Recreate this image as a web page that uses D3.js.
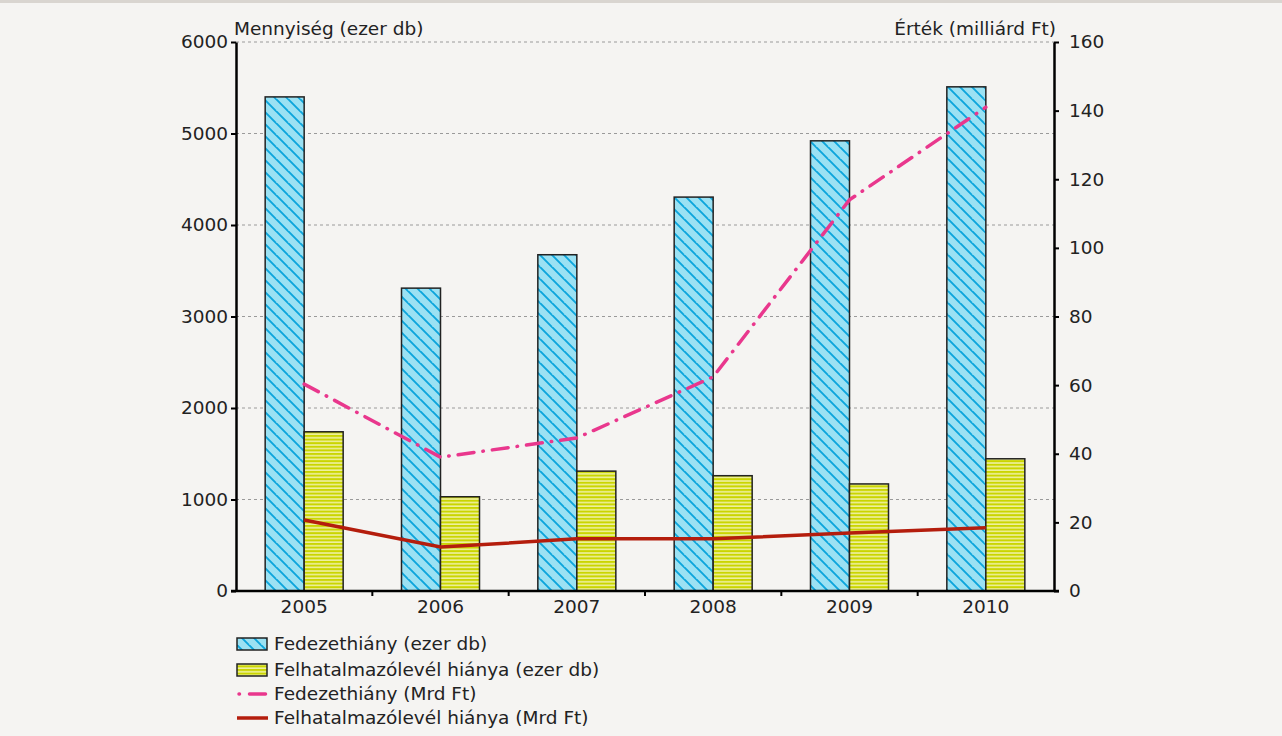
<!DOCTYPE html>
<html>
<head>
<meta charset="utf-8">
<script src="https://cdn.jsdelivr.net/npm/d3@7"></script>
<style>
  html, body { margin: 0; padding: 0; background: #f5f4f2; }
  body { border-top: 3px solid #d9d5d0; }
  text { font-family: "DejaVu Sans", sans-serif; fill: #222; }
</style>
</head>
<body>
<script>
// adatok
let years = ["2005", "2006", "2007", "2008", "2009", "2010"];
let fedezetDb = [5400, 3310, 3675, 4305, 4920, 5510];
let felhatDb = [1740, 1030, 1310, 1260, 1170, 1445];
let fedezetFt = [60.3, 39, 44.6, 62.4, 114, 141];
let felhatFt = [20.7, 12.8, 15.2, 15.2, 16.9, 18.4];
let leftTicks = [0, 1000, 2000, 3000, 4000, 5000, 6000];
let rightTicks = [0, 20, 40, 60, 80, 100, 120, 140, 160];
let legendNames = ["Fedezethiány (ezer db)", "Felhatalmazólevél hiánya (ezer db)",
    "Fedezethiány (Mrd Ft)", "Felhatalmazólevél hiánya (Mrd Ft)"];

let width = 1282;
let height = 733;
let plotLeft = 236, plotRight = 1054, plotTop = 39, plotBottom = 588;
let fontFam = "DejaVu Sans, sans-serif";
let fontSize = "18.5px";

let svg = d3.select("body")
    .append("svg")
    .attr("width", width)
    .attr("height", height)
    .style("display", "block");

// mintázatok
let defs = svg.append("defs");
let hs = 12;
let pBlue = defs.append("pattern")
    .attr("id", "blueHatch")
    .attr("patternUnits", "userSpaceOnUse")
    .attr("width", hs).attr("height", hs);
pBlue.append("rect").attr("width", hs).attr("height", hs).attr("fill", "#9be1f3");
pBlue.append("path")
    .attr("d", `M${-hs},0 L0,${hs} M0,0 L${hs},${hs} M0,${-hs} L${2 * hs},${hs}`)
    .attr("stroke", "#0ca5dc").attr("stroke-width", 1.9);

let pYellow = defs.append("pattern")
    .attr("id", "yellowHatch")
    .attr("patternUnits", "userSpaceOnUse")
    .attr("width", 4).attr("height", 3.6);
pYellow.append("rect").attr("width", 4).attr("height", 3.6).attr("fill", "#eef0a0");
pYellow.append("rect").attr("y", 0).attr("width", 4).attr("height", 2).attr("fill", "#cad500");

let x = d3.scaleBand().domain(years).range([plotLeft, plotRight]);
let yL = d3.scaleLinear().domain([0, 6000]).range([plotBottom, plotTop]);
let yR = d3.scaleLinear().domain([0, 160]).range([plotBottom, plotTop]);

// rácsvonalak
svg.append("g")
    .selectAll("line")
    .data(leftTicks.slice(1))
    .join("line")
    .attr("x1", plotLeft).attr("x2", plotRight)
    .attr("y1", d => yL(d)).attr("y2", d => yL(d))
    .attr("stroke", "#9a9a9a")
    .attr("stroke-width", 1)
    .attr("stroke-dasharray", "3,3");

let barW = 39;

svg.append("g")
    .selectAll("rect")
    .data(fedezetDb)
    .join("rect")
    .attr("x", (d, i) => x(years[i]) + x.bandwidth() / 2 - barW)
    .attr("y", d => yL(d))
    .attr("width", barW)
    .attr("height", d => plotBottom - yL(d))
    .attr("fill", "url(#blueHatch)")
    .attr("stroke", "#222").attr("stroke-width", 1.5);

svg.append("g")
    .selectAll("rect")
    .data(felhatDb)
    .join("rect")
    .attr("x", (d, i) => x(years[i]) + x.bandwidth() / 2)
    .attr("y", d => yL(d))
    .attr("width", barW)
    .attr("height", d => plotBottom - yL(d))
    .attr("fill", "url(#yellowHatch)")
    .attr("stroke", "#222").attr("stroke-width", 1.5);

// vonalak
let lineR = d3.line()
    .x((d, i) => x(years[i]) + x.bandwidth() / 2)
    .y(d => yR(d));

svg.append("path")
    .datum(fedezetFt)
    .attr("d", lineR)
    .attr("fill", "none")
    .attr("stroke", "#e9378d")
    .attr("stroke-width", 3.5)
    .attr("stroke-linecap", "round")
    .attr("stroke-dasharray", "16,9,0.5,9");

svg.append("path")
    .datum(felhatFt)
    .attr("d", lineR)
    .attr("fill", "none")
    .attr("stroke", "#b41d0d")
    .attr("stroke-width", 3.5);

// tengelyek
let axL = svg.append("g")
    .attr("transform", `translate(${plotLeft},0)`)
    .call(d3.axisLeft(yL).tickValues(leftTicks).tickFormat(d3.format("d"))
        .tickSize(5).tickPadding(3).tickSizeOuter(0));
let axR = svg.append("g")
    .attr("transform", `translate(${plotRight},0)`)
    .call(d3.axisRight(yR).tickValues(rightTicks).tickSize(5).tickPadding(10).tickSizeOuter(0));
let axB = svg.append("g")
    .attr("transform", `translate(0,${plotBottom})`)
    .call(d3.axisBottom(x).tickSize(0).tickPadding(9).tickSizeOuter(0));

// szomszédos kategóriák közötti osztások
axB.selectAll(".sep")
    .data(years.slice(1))
    .join("line")
    .attr("class", "sep")
    .attr("x1", d => x(d)).attr("x2", d => x(d))
    .attr("y1", 0).attr("y2", 5)
    .attr("stroke", "#000").attr("stroke-width", 2);

[axL, axR, axB].forEach(a => {
    a.selectAll("path.domain").attr("stroke", "#000").attr("stroke-width", 2.5);
    a.selectAll(".tick line").attr("stroke", "#000").attr("stroke-width", 2);
    a.selectAll("text").style("font-family", fontFam).style("font-size", fontSize).attr("fill", "#222");
});
axB.select("path.domain").attr("d", `M${plotLeft - 5},0H${plotRight + 5}`);

svg.append("text").attr("x", 234).attr("y", 32)
    .style("font-size", fontSize).text("Mennyiség (ezer db)");
svg.append("text").attr("x", 1056).attr("y", 32).attr("text-anchor", "end")
    .style("font-size", fontSize).text("Érték (milliárd Ft)");

// jelmagyarázat
let lg = svg.append("g").attr("transform", "translate(237,630)");
let rowY = [11, 37, 61, 85];
lg.append("rect").attr("x", 0).attr("y", rowY[0] - 6).attr("width", 30).attr("height", 12)
    .attr("fill", "url(#blueHatch)").attr("stroke", "#222").attr("stroke-width", 1.5);
lg.append("rect").attr("x", 0).attr("y", rowY[1] - 6).attr("width", 30).attr("height", 12)
    .attr("fill", "url(#yellowHatch)").attr("stroke", "#222").attr("stroke-width", 1.5);
lg.append("line").attr("x1", 2).attr("x2", 31).attr("y1", rowY[2]).attr("y2", rowY[2])
    .attr("stroke", "#e9378d").attr("stroke-width", 3.5).attr("stroke-linecap", "round")
    .attr("stroke-dasharray", "0.5,10,16,9");
lg.append("line").attr("x1", 0).attr("x2", 31).attr("y1", rowY[3]).attr("y2", rowY[3])
    .attr("stroke", "#b41d0d").attr("stroke-width", 3.5);
lg.selectAll(".lt")
    .data(legendNames)
    .join("text")
    .attr("class", "lt")
    .attr("x", 37)
    .attr("y", (d, i) => rowY[i])
    .attr("dy", "0.35em")
    .style("font-size", fontSize)
    .text(d => d);
</script>
</body>
</html>
